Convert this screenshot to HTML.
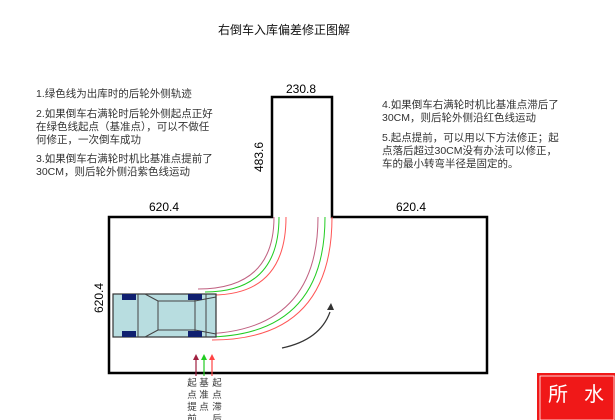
<!DOCTYPE html>
<html><head><meta charset="utf-8"><style>
body{margin:0;width:615px;height:420px;overflow:hidden;background:#fff;font-family:"Liberation Sans","Noto Sans CJK SC",sans-serif}
.t{position:absolute;font-size:10.5px;color:#333;line-height:13px;white-space:nowrap}
</style></head><body>
<div class="t" style="left:218px;top:24px;font-size:12px;color:#111">右倒车入库偏差修正图解</div>
<div class="t" style="left:36px;top:88px">1.绿色线为出库时的后轮外侧轨迹</div>
<div class="t" style="left:36px;top:108px">2.如果倒车右满轮时后轮外侧起点正好<br>在绿色线起点（基准点），可以不做任<br>何修正，一次倒车成功</div>
<div class="t" style="left:36px;top:153px">3.如果倒车右满轮时机比基准点提前了<br>30CM，则后轮外侧沿紫色线运动</div>
<div class="t" style="left:382px;top:99px">4.如果倒车右满轮时机比基准点滞后了<br>30CM，则后轮外侧沿红色线运动</div>
<div class="t" style="left:382px;top:132px">5.起点提前，可以用以下方法修正；起<br>点落后超过30CM没有办法可以修正，<br>车的最小转弯半径是固定的。</div>
<svg width="615" height="420" style="position:absolute;left:0;top:0" font-family="Liberation Sans, Noto Sans CJK SC, sans-serif">
<path d="M109,217 H272 V97 H332 V217 H487 V373 H109 Z" fill="none" stroke="#000" stroke-width="2.5"/>
<text x="286" y="93" font-size="12">230.8</text>
<text x="149" y="211" font-size="12">620.4</text>
<text x="396" y="211" font-size="12">620.4</text>
<text transform="translate(263,172) rotate(-90)" font-size="12">483.6</text>
<text transform="translate(103,313) rotate(-90)" font-size="12">620.4</text>
<g fill="none" stroke-width="1">
<path d="M274,217 Q274,289 198,289" stroke="#c06080"/>
<path d="M279,217 Q279,292 205,292" stroke="#2c2"/>
<path d="M286,217 Q286,295 212,295" stroke="#f55"/>
<path d="M318,217 Q318,334 198,334" stroke="#c06080"/>
<path d="M325,217 Q325,337 205,337" stroke="#2c2"/>
<path d="M332,217 Q332,340 212,340" stroke="#f55"/>
</g>
<rect x="113" y="294" width="103" height="43" fill="#b8dde0" stroke="#333" stroke-width="1.2"/>
<path d="M138,294 V337 M158,301 V330 M158,301 L145,294 M158,330 L145,337 M158,301 H195 M158,330 H195 M195,294 V337 M206,294 V337 M195,301 L216,297 M195,330 L216,334" stroke="#444" fill="none" stroke-width="1"/>
<rect x="122" y="294" width="14" height="6" fill="#102070"/><rect x="122" y="331" width="14" height="6" fill="#102070"/>
<rect x="188" y="294" width="14" height="6" fill="#102070"/><rect x="188" y="331" width="14" height="6" fill="#102070"/>
<g stroke-width="1.2">
<line x1="196" y1="359" x2="196" y2="376" stroke="#a02040"/>
<line x1="204" y1="359" x2="204" y2="376" stroke="#2c2"/>
<line x1="212" y1="359" x2="212" y2="376" stroke="#f44"/>
</g>
<path d="M196,354 l-3,6 h6z" fill="#a02040"/><path d="M204,354 l-3,6 h6z" fill="#2c2"/><path d="M212,354 l-3,6 h6z" fill="#f44"/>
<path d="M282,348 Q320,340 330,312" fill="none" stroke="#333" stroke-width="1.2"/>
<path d="M331,303 l-4,7 h7z" fill="#333"/>
<g font-size="9.5" fill="#333" text-anchor="middle">
<text x="192" y="386">起</text><text x="192" y="398">点</text><text x="192" y="410">提</text><text x="192" y="422">前</text>
<text x="204" y="386">基</text><text x="204" y="398">准</text><text x="204" y="410">点</text>
<text x="217" y="386">起</text><text x="217" y="398">点</text><text x="217" y="410">滞</text><text x="217" y="422">后</text>
</g>
<rect x="537" y="373" width="78" height="47" fill="#f01818"/>
<rect x="540" y="376" width="74" height="44" fill="none" stroke="#fff" stroke-width="0.8"/>
<text x="548" y="401" font-size="20" fill="#fff">所</text><text x="584" y="401" font-size="20" fill="#fff">水</text>
</svg>
</body></html>
